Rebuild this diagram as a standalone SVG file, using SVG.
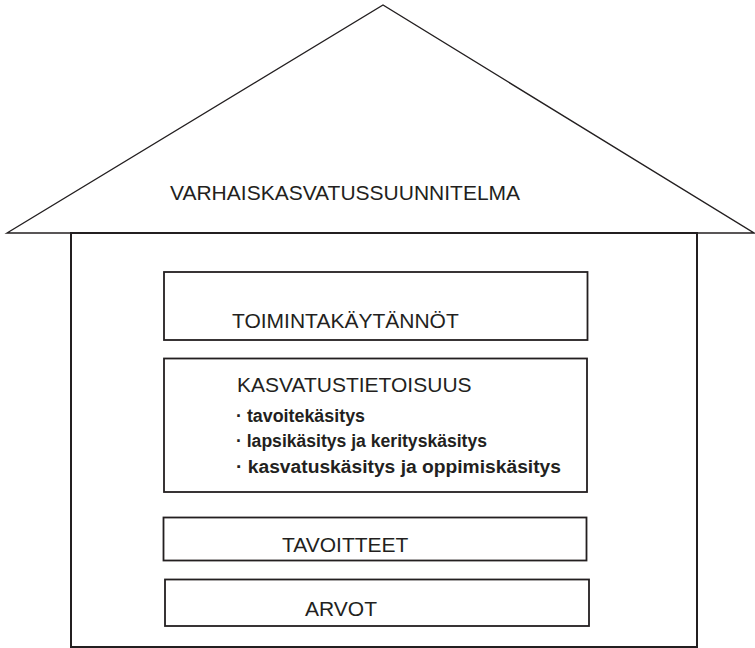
<svg xmlns="http://www.w3.org/2000/svg" width="755" height="648" viewBox="0 0 755 648">
  <style>
    .line { fill: none; stroke: #231f20; stroke-linejoin: miter; }
    .roof { stroke-width: 1.4; }
    .wall { stroke-width: 2; }
    .box { stroke-width: 1.8; fill: #ffffff; }
    .caps { font-family: "Liberation Sans", Arial, sans-serif; font-size: 21px; fill: #231f20; }
    .item { font-family: "Liberation Sans", Arial, sans-serif; font-weight: 700; font-size: 17.5px; fill: #231f20; }
  </style>
  <rect width="755" height="648" fill="#ffffff"/>

  <!-- roof with plan title -->
  <g id="roof">
    <polygon class="line roof" points="7,233 383,5 754,233"/>
    <text class="caps" x="170" y="200">VARHAISKASVATUSSUUNNITELMA</text>
  </g>

  <!-- house walls -->
  <g id="house">
    <rect class="line wall" x="71" y="233" width="626" height="414"/>
  </g>

  <g id="toimintakaytannot">
    <rect class="line box" x="164" y="272" width="423.5" height="68"/>
    <text class="caps" x="232" y="328">TOIMINTAKÄYTÄNNÖT</text>
  </g>

  <g id="kasvatustietoisuus">
    <rect class="line box" x="164" y="358.5" width="423" height="133.5"/>
    <text class="caps" x="237" y="392">KASVATUSTIETOISUUS</text>
    <text class="item" x="236" y="421.5" textLength="129" lengthAdjust="spacingAndGlyphs">· tavoitekäsitys</text>
    <text class="item" x="236" y="447" textLength="251" lengthAdjust="spacingAndGlyphs">· lapsikäsitys ja kerityskäsitys</text>
    <text class="item" x="236" y="473" textLength="325" lengthAdjust="spacingAndGlyphs">· kasvatuskäsitys ja oppimiskäsitys</text>
  </g>

  <g id="tavoitteet">
    <rect class="line box" x="163.5" y="517.5" width="423" height="43"/>
    <text class="caps" x="282" y="552">TAVOITTEET</text>
  </g>

  <g id="arvot">
    <rect class="line box" x="165" y="579.5" width="424" height="46.5"/>
    <text class="caps" x="305" y="616">ARVOT</text>
  </g>
</svg>
